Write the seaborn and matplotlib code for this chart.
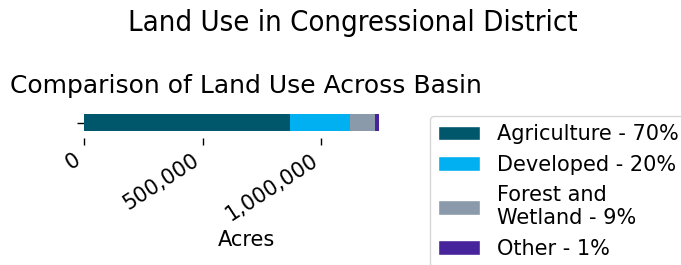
import pandas as pd
import seaborn as sns
import matplotlib.pyplot as plt
from matplotlib.patches import Patch
from matplotlib.ticker import FuncFormatter

# land use totals (acres)
categories = ['Agriculture', 'Developed', 'Forest and Wetland', 'Other']
acres = [868000, 252000, 106000, 15000]
legend_labels = ['Agriculture - 70%', 'Developed - 20%', 'Forest and\nWetland - 9%', 'Other - 1%']
colors = ['#00566a', '#00b0f0', '#8a9aaa', '#47239c']

sns.set_style('white')
plt.rcParams['font.family'] = ['DejaVu Sans']
plt.rcParams['font.size'] = 15
for key in ['text.color', 'axes.labelcolor', 'xtick.color', 'ytick.color']:
    plt.rcParams[key] = 'black'

df = pd.DataFrame({'category': categories, 'acres': acres})
df['cum'] = df['acres'].cumsum()
df['row'] = 'Basin'

fig = plt.figure(figsize=(6.81, 2.65), dpi=100)
ax = fig.add_axes([84 / 681, 1 - 138 / 265, 324 / 681, 31 / 265])

# stacked bar: draw cumulative totals from the largest down so each segment shows
for i in range(len(df) - 1, -1, -1):
    sns.barplot(data=df.iloc[[i]], x='cum', y='row', orient='h', color=colors[i],
                width=0.55, saturation=1, linewidth=0, ax=ax)

ax.set_xlim(0, df['acres'].sum() * 1.1)
ax.set_yticks([0])
ax.set_yticklabels([''])
ax.set_ylabel('')
ax.set_xlabel('Acres', fontsize=15)
ax.xaxis.set_major_formatter(FuncFormatter(lambda v, p: f'{v:,.0f}'))
ax.tick_params(axis='both', which='major', length=5, width=1, color='black', bottom=True, left=True)
plt.setp(ax.get_xticklabels(), rotation=33, ha='right')
sns.despine(ax=ax, left=True, bottom=True)

ax.set_title('Comparison of Land Use Across Basin', fontsize=18, pad=10)
fig.suptitle('Land Use in Congressional District', x=353 / 681, y=1 - 9 / 265, va='top',
             fontsize=21, fontweight='light', fontstretch='condensed')

handles = [Patch(facecolor=c, label=l) for c, l in zip(colors, legend_labels)]
fig.legend(handles=handles, loc='upper left', bbox_to_anchor=(430 / 681, 1 - 116 / 265),
           borderaxespad=0, fontsize=15, frameon=True)

fig.savefig('out.png', dpi=100)
